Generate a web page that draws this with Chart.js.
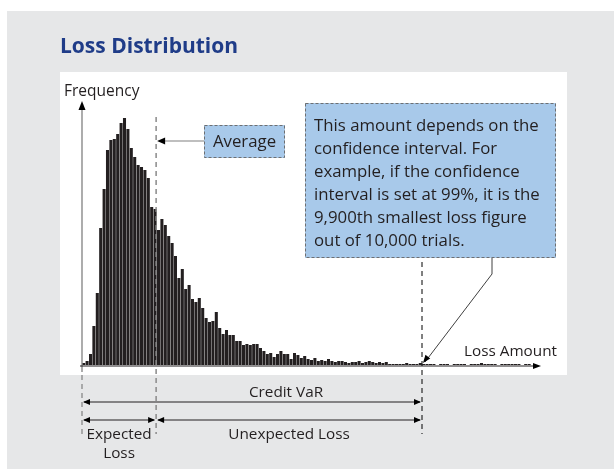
<!DOCTYPE html>
<html>
<head>
<meta charset="utf-8">
<script src="https://cdn.jsdelivr.net/npm/chart.js@4.4.0/dist/chart.umd.min.js"></script>
<style>
  html, body { margin: 0; padding: 0; background: #fff; }
  canvas { display: block; }
</style>
</head>
<body>
<canvas id="chart" width="614" height="469"></canvas>
<script>
// histogram of simulated losses (frequency per loss bin)
const frequency = [
  2, 4, 11, 39, 72, 137, 176, 215, 225, 226, 231, 242, 247, 236, 217, 208,
  200, 198, 195, 187, 158, 156, 135, 146, 140, 129, 122, 109, 87, 96, 76, 80,
  66, 63, 67, 57, 47, 43, 44, 53, 37, 31, 35, 30, 30, 24, 24, 20, 21, 20, 21,
  21, 17, 14, 11, 12, 8, 11, 14, 11, 11, 6, 12, 10,
  7, 9, 6, 5, 7, 4, 5, 4, 6, 4, 3, 4, 4, 3, 2, 3, 3, 4, 2, 3, 4, 3, 2, 3, 2,
  3, 1, 1, 1, 1, 1, 2, 1, 1, 1, 2, 1, 1,
  1, 1, 0, 1, 1, 1, 0, 1, 1, 1, 1, 0, 1, 1, 1, 2, 1, 1, 1, 1, 0, 1, 1, 1, 1,
  1, 1, 0, 1, 1, 0, 0, 0
];
const bins = frequency.map((v, i) => String(i + 1));
const averageBin = 21.8;   // expected loss (mean)
const varBin = 100;        // 99% quantile -> credit VaR

const noteLines = [
  "This amount depends on the",
  "confidence interval. For",
  "example, if the confidence",
  "interval is set at 99%, it is the",
  "9,900th smallest loss figure",
  "out of 10,000 trials."
];

const FONT = "'Open Sans', 'Noto Sans', sans-serif";
const INK = "#231f20";

function arrowHead(ctx, x, y, angle, len, half) {
  ctx.save();
  ctx.translate(x, y);
  ctx.rotate(angle);
  ctx.beginPath();
  ctx.moveTo(0, 0);
  ctx.lineTo(-len, -half);
  ctx.lineTo(-len, half);
  ctx.closePath();
  ctx.fillStyle = "#000";
  ctx.fill();
  ctx.restore();
}

function line(ctx, x1, y1, x2, y2, color, width, dash) {
  ctx.save();
  ctx.beginPath();
  ctx.setLineDash(dash || []);
  ctx.strokeStyle = color;
  ctx.lineWidth = width;
  ctx.moveTo(x1, y1);
  ctx.lineTo(x2, y2);
  ctx.stroke();
  ctx.restore();
}

function doubleArrow(ctx, x1, x2, y) {
  line(ctx, x1 + 2, y, x2 - 2, y, INK, 1);
  arrowHead(ctx, x1 + 1, y, Math.PI, 7, 3);
  arrowHead(ctx, x2 - 1, y, 0, 7, 3);
}

function text(ctx, str, x, y, size, align, color, weight) {
  ctx.save();
  ctx.font = (weight || "normal") + " " + size + "px " + FONT;
  ctx.fillStyle = color || INK;
  ctx.textAlign = align || "left";
  ctx.textBaseline = "alphabetic";
  ctx.fillText(str, x, y);
  ctx.restore();
}

function box(ctx, x, y, w, h) {
  ctx.save();
  ctx.fillStyle = "#a8c9ea";
  ctx.fillRect(x, y, w, h);
  ctx.setLineDash([3, 2]);
  ctx.strokeStyle = "#6d6e71";
  ctx.lineWidth = 1;
  ctx.strokeRect(x + 0.5, y + 0.5, w - 1, h - 1);
  ctx.restore();
}

const figure = {
  id: "figure",
  beforeDraw(chart) {
    const ctx = chart.ctx;
    ctx.save();
    ctx.fillStyle = "#fff";
    ctx.fillRect(0, 0, chart.width, chart.height);
    ctx.fillStyle = "#e6e7e8";
    ctx.fillRect(7, 11, chart.width - 7, chart.height - 11);
    ctx.fillStyle = "#fff";
    ctx.fillRect(60, 72, 507, 303);
    ctx.restore();
    text(ctx, "Loss Distribution", 60, 53, 21, "left", "#1f3c88", "bold");
  },
  afterDatasetsDraw(chart) {
    const ctx = chart.ctx;
    const area = chart.chartArea;
    const step = (area.right - area.left) / frequency.length;
    const xAt = v => area.left + v * step;
    const x0 = area.left;
    const xAvg = xAt(averageBin);
    const xVar = xAt(varBin);
    const base = area.bottom + 1;

    // axes
    line(ctx, x0, 372, x0, 108, "#808080", 1.3);
    arrowHead(ctx, x0, 101, -Math.PI / 2, 9, 3.5);
    text(ctx, "Frequency", 64, 96, 15.5);
    line(ctx, x0 - 2, base, area.right - 6, base, INK, 1);
    arrowHead(ctx, area.right, base, 0, 8, 3);
    text(ctx, "Loss Amount", 464, 356, 15.3);

    // marker lines
    line(ctx, x0, 375, x0, 434, "#808080", 1.2, [5, 4]);
    line(ctx, xAvg, 117, xAvg, 434, "#8a8a8a", 1.5, [5, 4]);
    line(ctx, xVar, 262, xVar, 434, "#000", 1, [5, 4]);

    // Average callout
    box(ctx, 204, 125, 81, 33);
    text(ctx, "Average", 244.5, 147, 16.8, "center");
    line(ctx, 204, 141, xAvg + 6, 141, "#808080", 1.2);
    arrowHead(ctx, xAvg + 1, 141, Math.PI, 8, 3.5);

    // VaR note
    box(ctx, 305, 103, 251, 155);
    noteLines.forEach((s, i) => text(ctx, s, 314, 131 + i * 23, 16.8));
    ctx.save();
    ctx.beginPath();
    ctx.strokeStyle = "#404040";
    ctx.lineWidth = 1;
    ctx.moveTo(492, 258);
    ctx.lineTo(492, 274);
    ctx.lineTo(xVar + 3, base - 4);
    ctx.stroke();
    ctx.restore();
    arrowHead(ctx, xVar + 1, base - 3, Math.atan2(base - 4 - 274, xVar + 3 - 492), 8, 3);

    // brackets below the axis
    doubleArrow(ctx, x0, xVar, 402);
    text(ctx, "Credit VaR", 286, 397, 15.3, "center");
    doubleArrow(ctx, x0, xAvg, 420);
    doubleArrow(ctx, xAvg, xVar, 420);
    text(ctx, "Expected", (x0 + xAvg) / 2, 439, 15.3, "center");
    text(ctx, "Loss", (x0 + xAvg) / 2, 458, 15.3, "center");
    text(ctx, "Unexpected Loss", (xAvg + xVar) / 2, 439, 15.3, "center");
  }
};

new Chart(document.getElementById("chart"), {
  type: "bar",
  data: {
    labels: bins,
    datasets: [{
      label: "Frequency",
      data: frequency,
      backgroundColor: INK,
      borderWidth: 0,
      barPercentage: 0.9,
      categoryPercentage: 1
    }]
  },
  options: {
    responsive: false,
    animation: false,
    layout: { padding: { left: 82, right: 73, top: 95, bottom: 104 } },
    plugins: {
      legend: { display: false },
      tooltip: { enabled: false },
      title: { display: false }
    },
    scales: {
      x: { display: false, grid: { display: false } },
      y: { display: false, min: 0, max: 270 }
    }
  },
  plugins: [figure]
});
</script>
</body>
</html>
